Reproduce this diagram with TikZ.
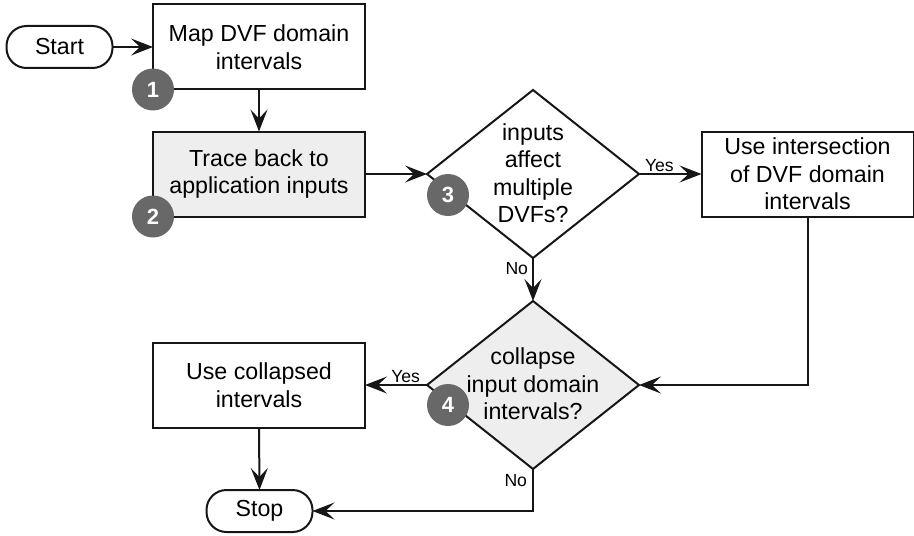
\documentclass[tikz,border=0pt]{standalone}
\usepackage{fontspec}
\setmainfont{Liberation Sans}
\usetikzlibrary{arrows.meta,shapes.geometric,calc}
\definecolor{badgegray}{HTML}{686868}
\definecolor{panelgray}{HTML}{EEEEEE}
\definecolor{inkline}{HTML}{161616}
\begin{document}
\begin{tikzpicture}[x=0.5pt,y=-0.5pt,
  font=\fontsize{11.6}{13.75}\selectfont,
  every node/.style={inner sep=0pt, outer sep=0pt},
  flow/.style={draw=inkline, line width=1pt, -{Stealth[length=11pt,width=8.5pt,inset=4.5pt]}},
  procbox/.style={draw=inkline, line width=1pt, minimum width=106pt, minimum height=42.5pt, align=center},
  terminal/.style={draw=inkline, line width=1pt, rounded corners=10pt, minimum width=53pt, minimum height=21pt},
  decision/.style={draw=inkline, line width=1pt, diamond, minimum width=106pt, minimum height=84pt},
  qtext/.style={align=center},
  badge/.style={circle, fill=badgegray, minimum size=21pt, text=white, font=\fontsize{11}{12}\selectfont\bfseries},
  branch/.style={font=\fontsize{8.8}{10}\selectfont}
]
\useasboundingbox (0,0) rectangle (914,535);

% terminals and process boxes
\node[terminal] (start) at (59.5,47) {Start};
\node[procbox] (map) at (259,47) {Map DVF domain\\intervals};
\node[procbox, fill=panelgray] (trace) at (259,174) {Trace back to\\application inputs};
\node[procbox] (isect) at (807.5,174) {Use intersection\\of DVF domain\\intervals};
\node[procbox] (usecol) at (259,385) {Use collapsed\\intervals};
\node[terminal] (stop) at (259.5,511) {Stop};

% decisions
\node[decision] (multi) at (533,174) {};
\node[qtext] (multitext) at (533,173) {inputs\\affect\\multiple\\DVFs?};
\node[decision, fill=panelgray] (collapse) at (533,385) {};
\node[qtext] (collapsetext) at (533,384) {collapse\\input domain\\intervals?};

% connectors
\draw[flow] (start) -- (map);
\draw[flow] (map) -- (trace);
\draw[flow] (trace.east) -- (multi.west);
\draw[flow] (multi.east) -- node[branch, pos=0, anchor=south west, xshift=3pt, yshift=1pt] (yes1) {Yes} (isect.west);
\draw[flow] (multi.south) -- node[branch, pos=0, anchor=north east, xshift=-2.5pt, yshift=-2pt] (no1) {No} (collapse.north);
\draw[flow] (isect.south) |- (collapse.east);
\draw[flow] (collapse.west) -- node[branch, pos=0, anchor=south east, xshift=-3.5pt, yshift=1pt] (yes2) {Yes} (usecol.east);
\draw[flow] (usecol.south) -- (stop.north);
\draw[flow] (collapse.south) |- node[branch, pos=0, anchor=north east, xshift=-3pt, yshift=-2.5pt] (no2) {No} (stop.east);

% step badges
\node[badge] (b1) at (map.south west) {1};
\node[badge] (b2) at (trace.south west) {2};
\node[badge] (b3) at (448,195) {3};
\node[badge] (b4) at (448,405) {4};
\end{tikzpicture}
\end{document}
